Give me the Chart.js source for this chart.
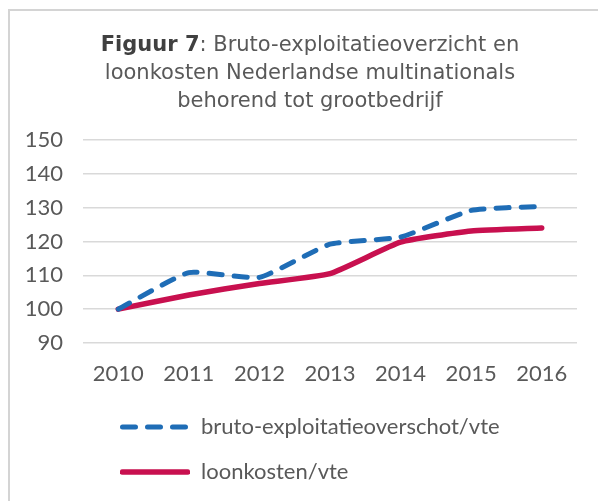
<!DOCTYPE html>
<html>
<head>
<meta charset="utf-8">
<script src="https://cdn.jsdelivr.net/npm/chart.js@4/dist/chart.umd.min.js"></script>
<style>
  html, body { margin: 0; padding: 0; background: #fff; }
  #wrap { position: relative; width: 598px; height: 501px; overflow: hidden; }
  #frame {
    position: absolute; left: 8px; top: 9px; right: -2px; bottom: -2px;
    border-left: 2px solid #d4d4d4; border-top: 2px solid #d4d4d4;
    pointer-events: none;
  }
  #title {
    position: absolute; left: 0; top: 30px; width: 620px; text-align: center;
    font-family: "DejaVu Sans", Verdana, sans-serif; font-size: 21px; line-height: 28px;
    color: #595959;
  }
  #title b { color: #404040; }
  canvas { position: absolute; left: 0; top: 0; }
</style>
</head>
<body>
<div id="wrap">
  <canvas id="chart" width="598" height="501"></canvas>
  <div id="frame"></div>
  <div id="title"><b>Figuur 7</b>: Bruto-exploitatieoverzicht en<br>loonkosten Nederlandse multinationals<br>behorend tot grootbedrijf</div>
</div>
<script>
// values (index, 2010 = 100)
var years = ['2010', '2011', '2012', '2013', '2014', '2015', '2016'];
var brutoExploitatie = [100, 110.8, 109.4, 119.2, 121.3, 129.2, 130.4];
var loonkosten = [100, 104.2, 107.6, 110.5, 119.8, 123.1, 124];
var seriesNames = ['bruto-exploitatieoverschot/vte', 'loonkosten/vte'];

var BLUE = '#1f6db6';
var RED = '#c8104f';
var tickFont = { family: 'Lato, "Open Sans", sans-serif', size: 22 };
var LEGEND_X = 120;

// legend swatch: a short line, dashed like the series when a dash is given
function swatch(color, width, dash) {
  var c = document.createElement('canvas');
  c.width = 70;
  c.height = 8;
  var ctx = c.getContext('2d');
  ctx.strokeStyle = color;
  ctx.lineWidth = width;
  ctx.lineCap = 'round';
  ctx.setLineDash(dash);
  ctx.beginPath();
  ctx.moveTo(2.5, 4);
  ctx.lineTo(67.5, 4);
  ctx.stroke();
  return c;
}

// the legend rows start left-aligned under the second category
var legendShift = {
  id: 'legendShift',
  afterLayout: function(chart) {
    var lg = chart.legend;
    var pad = lg.options.labels.padding;
    var dx = LEGEND_X - (lg.left + pad);
    lg.left += dx;
    lg.right += dx;
  }
};

new Chart(document.getElementById('chart'), {
  type: 'line',
  data: {
    labels: years,
    datasets: [{
      label: seriesNames[0],
      data: brutoExploitatie,
      borderColor: BLUE,
      backgroundColor: BLUE,
      borderWidth: 5,
      borderDash: [13, 12],
      borderCapStyle: 'round',
      borderJoinStyle: 'round',
      pointRadius: 0,
      pointStyle: swatch(BLUE, 5, [13, 12]),
      tension: 0.15
    }, {
      label: seriesNames[1],
      data: loonkosten,
      borderColor: RED,
      backgroundColor: RED,
      borderWidth: 5.5,
      borderCapStyle: 'round',
      borderJoinStyle: 'round',
      pointRadius: 0,
      pointStyle: swatch(RED, 5.5, []),
      tension: 0.15
    }]
  },
  options: {
    responsive: false,
    animation: false,
    layout: { padding: { top: 140, right: 21, bottom: 8, left: 0 } },
    scales: {
      x: {
        offset: true,
        grid: { display: false, drawTicks: false, offset: true },
        border: { display: false },
        ticks: { font: tickFont, color: '#595959', padding: 18, maxRotation: 0 },
        afterFit: function(scale) { scale.height = 50; }
      },
      y: {
        min: 90,
        max: 150,
        grid: { color: '#d9d9d9', lineWidth: 1.5, drawTicks: false },
        border: { display: false },
        ticks: { stepSize: 10, font: tickFont, color: '#595959', padding: 20 },
        afterFit: function(scale) { scale.width = 83; }
      }
    },
    plugins: {
      legend: {
        position: 'bottom',
        align: 'start',
        labels: {
          usePointStyle: true,
          pointStyleWidth: 70,
          font: tickFont,
          color: '#595959',
          padding: 23
        }
      },
      tooltip: { enabled: false }
    }
  },
  plugins: [legendShift]
});
</script>
</body>
</html>
